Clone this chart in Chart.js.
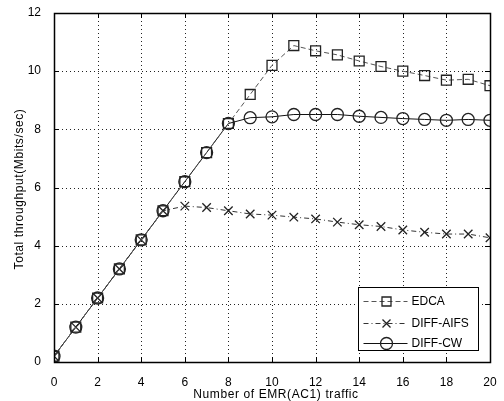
<!DOCTYPE html>
<html>
<head>
<meta charset="utf-8">
<script src="https://cdn.jsdelivr.net/npm/chart.js@4/dist/chart.umd.min.js"></script>
<style>
html,body{margin:0;padding:0;background:#fff;}
#wrap{width:504px;height:401px;position:relative;}
</style>
</head>
<body>
<div id="wrap"><canvas id="c" width="504" height="401"></canvas></div>
<script>
const xValues = [0,1,2,3,4,5,6,7,8,9,10,11,12,13,14,15,16,17,18,19,20];
const edca     = [0.2,1.2,2.2,3.2,4.2,5.2,6.2,7.2,8.2,9.2,10.2,10.88,10.7,10.56,10.35,10.16,10.0,9.85,9.69,9.72,9.5];
const diffAifs = [0.2,1.2,2.2,3.2,4.2,5.2,5.36,5.31,5.2,5.09,5.05,4.98,4.92,4.81,4.72,4.66,4.54,4.46,4.4,4.4,4.27];
const diffCw   = [0.2,1.2,2.2,3.2,4.2,5.2,6.2,7.2,8.2,8.4,8.43,8.51,8.51,8.51,8.45,8.41,8.37,8.34,8.31,8.34,8.31];
const seriesNames = ['EDCA','DIFF-AIFS','DIFF-CW'];
const xTicks = [0,2,4,6,8,10,12,14,16,18,20];
const yTicks = [0,2,4,6,8,10,12];
const xTitle = 'Number of EMR(AC1) traffic';
const yTitle = 'Total throughput(Mbits/sec)';

const FONT = '"Liberation Sans", Arial, sans-serif';
const pts = arr => arr.map((v,i)=>({x:xValues[i], y:v}));

const styles = [
  {line:'#555', dash:[5,3], marker:'rect', radius:7},
  {line:'#333', dash:[5,3,1,3], marker:'crossRot', radius:6},
  {line:'#111', dash:[], marker:'circle', radius:6}
];
const seriesData = [edca, diffAifs, diffCw];

const datasets = seriesData.map((d,i)=>({
  label: seriesNames[i],
  data: pts(d),
  borderColor: styles[i].line,
  borderWidth: 1,
  borderDash: styles[i].dash,
  pointStyle: styles[i].marker,
  pointRadius: styles[i].radius,
  pointBorderColor: '#222',
  pointBackgroundColor: 'rgba(0,0,0,0)',
  pointBorderWidth: 1.3,
  fill: false,
  tension: 0
}));

const framePlugin = {
  id: 'frame',
  beforeDatasetsDraw(chart) {
    const {ctx, chartArea: a, scales} = chart;
    ctx.save();
    ctx.strokeStyle = '#222';
    ctx.lineWidth = 1;
    ctx.setLineDash([1,3]);
    ctx.beginPath();
    xTicks.forEach(t => {
      const px = Math.round(scales.x.getPixelForValue(t)) + 0.5;
      ctx.moveTo(px, a.top); ctx.lineTo(px, a.bottom);
    });
    yTicks.forEach(t => {
      const py = Math.round(scales.y.getPixelForValue(t)) + 0.5;
      ctx.moveTo(a.left, py); ctx.lineTo(a.right, py);
    });
    ctx.stroke();
    ctx.restore();
  },
  afterDatasetsDraw(chart) {
    const {ctx, chartArea: a, scales} = chart;
    ctx.save();
    ctx.setLineDash([]);
    ctx.strokeStyle = '#000';
    ctx.lineWidth = 1;
    const tl = 5;
    ctx.beginPath();
    xTicks.forEach(t => {
      const px = Math.round(scales.x.getPixelForValue(t)) + 0.5;
      ctx.moveTo(px, a.bottom); ctx.lineTo(px, a.bottom - tl);
      ctx.moveTo(px, a.top); ctx.lineTo(px, a.top + tl);
    });
    yTicks.forEach(t => {
      const py = Math.round(scales.y.getPixelForValue(t)) + 0.5;
      ctx.moveTo(a.left, py); ctx.lineTo(a.left + tl, py);
      ctx.moveTo(a.right, py); ctx.lineTo(a.right - tl, py);
    });
    ctx.stroke();
    ctx.lineWidth = 1.5;
    ctx.strokeRect(Math.round(a.left)+0.5, Math.round(a.top)+0.5, Math.round(a.right - a.left), Math.round(a.bottom - a.top));

    // axis titles
    ctx.fillStyle = '#000';
    ctx.font = '12px ' + FONT;
    ctx.letterSpacing = '0.6px';
    ctx.textAlign = 'center';
    ctx.textBaseline = 'middle';
    ctx.fillText(xTitle, 276, 395);
    ctx.save();
    ctx.translate(20, 189);
    ctx.rotate(-Math.PI/2);
    ctx.fillText(yTitle, 0, 0);
    ctx.restore();
    ctx.letterSpacing = '0px';

    // legend
    const bw = 120, bh = 63;
    const bx = Math.round(a.right - 12 - bw) + 0.5, by = Math.round(a.bottom - 12 - bh) + 0.5;
    ctx.fillStyle = '#fff';
    ctx.fillRect(bx, by, bw, bh);
    ctx.lineWidth = 1;
    ctx.strokeStyle = '#000';
    ctx.strokeRect(bx, by, bw, bh);
    const rows = [13, 35, 55];
    ctx.font = '12px ' + FONT;
    ctx.textBaseline = 'middle';
    ctx.textAlign = 'left';
    seriesNames.forEach((n, i) => {
      const y = Math.round(by + rows[i]) + 0.5;
      const x0 = bx + 5, x1 = bx + 49, xm = Math.round((x0 + x1) / 2) + 0.5;
      ctx.strokeStyle = styles[i].line;
      ctx.lineWidth = 1;
      ctx.setLineDash(styles[i].dash);
      ctx.beginPath(); ctx.moveTo(x0, y); ctx.lineTo(x1, y); ctx.stroke();
      ctx.setLineDash([]);
      ctx.strokeStyle = '#222';
      ctx.lineWidth = 1.3;
      ctx.beginPath();
      if (styles[i].marker === 'rect') {
        ctx.rect(xm - 4.5, y - 4.5, 9, 9);
      } else if (styles[i].marker === 'crossRot') {
        const r = 4; ctx.moveTo(xm-r,y-r); ctx.lineTo(xm+r,y+r); ctx.moveTo(xm-r,y+r); ctx.lineTo(xm+r,y-r);
      } else {
        ctx.arc(xm, y, 6, 0, Math.PI*2);
      }
      ctx.stroke();
      ctx.fillStyle = '#000';
      ctx.fillText(n, bx + 53, y);
    });
    ctx.restore();
  }
};

new Chart(document.getElementById('c'), {
  type: 'line',
  data: { datasets },
  options: {
    responsive: false,
    animation: false,
    devicePixelRatio: 1,
    layout: { padding: { top: 13, right: 14, left: 0, bottom: 0 } },
    plugins: { legend: { display: false }, tooltip: { enabled: false } },
    scales: {
      x: {
        type: 'linear', min: 0, max: 20,
        afterBuildTicks: s => { s.ticks = xTicks.map(v => ({value: v})); },
        afterFit: s => { s.height = 39; },
        ticks: { color: '#000', font: { family: FONT, size: 12 }, padding: 5, maxRotation: 0 },
        grid: { display: false },
        border: { display: false },
        title: { display: false }
      },
      y: {
        type: 'linear', min: 0, max: 12,
        afterBuildTicks: s => { s.ticks = yTicks.map(v => ({value: v})); },
        afterFit: s => { s.width = 54; },
        ticks: { color: '#000', font: { family: FONT, size: 12 }, padding: 5 },
        grid: { display: false },
        border: { display: false },
        title: { display: false }
      }
    }
  },
  plugins: [framePlugin]
});
</script>
</body>
</html>
